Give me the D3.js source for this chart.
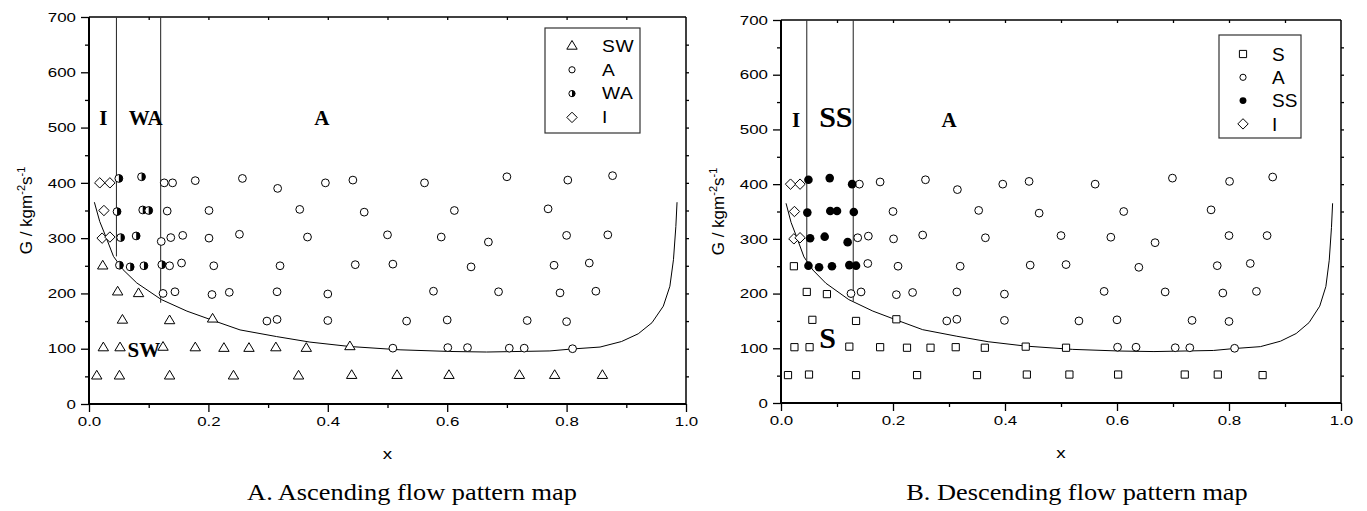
<!DOCTYPE html>
<html><head><meta charset="utf-8">
<script src="https://cdn.jsdelivr.net/npm/d3@7"></script>
<style>body{margin:0;background:#fff}svg{display:block}</style>
</head><body>
<script>
// ---------- data ----------
const xTickValues=[0.0,0.2,0.4,0.6,0.8,1.0];
const xMinorValues=[0.1,0.3,0.5,0.7,0.9];
const yTickValues=[0,100,200,300,400,500,600,700];
const yMinorValues=[50,150,250,350,450,550,650];
const captions=["A. Ascending flow pattern map","B. Descending flow pattern map"];

// transition boundary curve (same on both maps)
const curveX=[0.009,0.018,0.027,0.041,0.057,0.080,0.121,0.164,0.208,0.253,0.314,0.370,0.437,0.521,0.605,0.666,0.772,0.809,0.856,0.892,0.920,0.943,0.962,0.973,0.979,0.983,0.985];
const curveG=[365,330,306,267,243,219,189,168,151,134,122,112,104,98,95,94,96,99.5,103,113,127,147,177,213,261,321,365];

// A: ascending
const ascSW=[[0.023,250],[0.048,203],[0.083,200],[0.056,152],[0.135,151],[0.207,154],[0.024,102],[0.052,102],[0.124,103],[0.178,102],[0.226,101],[0.268,101],[0.313,102],[0.364,101],[0.437,104],[0.013,51],[0.051,51],[0.135,51],[0.242,51],[0.351,51],[0.440,52],[0.516,52],[0.603,52],[0.721,52],[0.780,52],[0.860,52]];
const ascA=[[0.126,400],[0.140,400],[0.178,404],[0.257,408],[0.316,390],[0.396,400],[0.442,405],[0.562,400],[0.700,411],[0.802,405],[0.877,413],
[0.131,349],[0.201,350],[0.353,352],[0.461,347],[0.612,350],[0.769,353],
[0.121,294],[0.137,301],[0.157,305],[0.201,300],[0.252,307],[0.366,302],[0.500,306],[0.590,302],[0.669,293],[0.800,305],[0.869,306],
[0.135,250],[0.155,255],[0.209,250],[0.320,250],[0.446,252],[0.509,253],[0.640,248],[0.779,251],[0.838,255],
[0.124,200],[0.144,203],[0.206,198],[0.235,202],[0.315,203],[0.400,199],[0.577,204],[0.686,203],[0.789,201],[0.849,204],
[0.298,150],[0.315,153],[0.400,151],[0.532,150],[0.600,152],[0.734,151],[0.800,149],
[0.509,101],[0.601,102],[0.634,102],[0.704,101],[0.729,101],[0.810,100]];
const ascWA=[[0.050,408],[0.088,411],[0.047,348],[0.090,351],[0.100,350],[0.053,301],[0.079,304],[0.051,251],[0.069,248],[0.092,250],[0.122,252]];
const ascI=[[0.018,400],[0.035,400],[0.025,350],[0.022,300],[0.035,302]];
const ascBounds=[[0.046,267],[0.120,183]];
const ascRegions=[["I",0.024,505],["WA",0.095,505],["A",0.39,505],["SW",0.092,85]];
const ascLegend=["SW","A","WA","I"];

// B: descending
const desS=[[0.023,250],[0.046,203],[0.082,199],[0.056,152],[0.134,150],[0.206,153],[0.024,102],[0.051,102],[0.122,103],[0.177,102],[0.225,101],[0.267,101],[0.312,102],[0.364,101],[0.437,103],[0.509,101],[0.0125,51],[0.050,52],[0.134,51],[0.243,51],[0.350,51],[0.439,52],[0.515,52],[0.602,52],[0.721,52],[0.780,52],[0.860,51]];
const desA=[[0.140,400],[0.177,404],[0.258,408],[0.315,390],[0.396,400],[0.443,405],[0.561,400],[0.699,411],[0.801,405],[0.878,413],
[0.200,350],[0.353,352],[0.461,347],[0.612,350],[0.768,353],
[0.137,302],[0.156,305],[0.201,300],[0.253,307],[0.365,302],[0.500,306],[0.589,303],[0.668,293],[0.800,306],[0.868,306],
[0.155,255],[0.209,250],[0.320,250],[0.445,252],[0.509,253],[0.639,248],[0.779,251],[0.838,255],
[0.125,200],[0.143,203],[0.206,198],[0.235,202],[0.314,203],[0.399,199],[0.577,204],[0.686,203],[0.789,201],[0.849,204],
[0.296,150],[0.314,153],[0.399,151],[0.532,150],[0.600,152],[0.734,151],[0.800,149],
[0.601,102],[0.634,102],[0.704,101],[0.730,101],[0.810,100]];
const desSS=[[0.049,408],[0.087,411],[0.127,400],[0.047,348],[0.088,351],[0.100,351],[0.130,349],[0.052,301],[0.078,304],[0.119,294],[0.049,251],[0.068,248],[0.091,250],[0.122,252],[0.134,251]];
const desI=[[0.017,400],[0.034,400],[0.024,350],[0.023,300],[0.034,302]];
const desBounds=[[0.046,256],[0.129,185]];
const desRegions=[["I",0.027,505],["SS",0.098,505],["A",0.30,505],["S",0.083,100]];
const desLegend=["S","A","SS","I"];

// ---------- drawing ----------
const svg=d3.select("body").append("svg").attr("width",1367).attr("height",511);
const sans="'Liberation Sans',Arial,sans-serif";
const serif="'Liberation Serif','Times New Roman',serif";

function stretch(sel,k){
  sel.each(function(){
    const w=this.getComputedTextLength();
    if(w>0) d3.select(this).attr("textLength",w*k).attr("lengthAdjust","spacingAndGlyphs");
  });
}

function markerPath(type,cx,cy){
  if(type==="tri"){return `M${cx},${cy-5.5}L${cx+5.2},${cy+3.2}L${cx-5.2},${cy+3.2}Z`;}
  if(type==="sq"){return `M${cx-3.6},${cy-3.6}h7.2v7.2h-7.2Z`;}
  if(type==="dia"){return `M${cx-5.2},${cy}L${cx},${cy-5.2}L${cx+5.2},${cy}L${cx},${cy+5.2}Z`;}
  return "";
}
function drawMarker(g,type,cx,cy,scale){
  scale=scale||1;
  if(type==="circ"){
    g.append("circle").attr("cx",cx).attr("cy",cy).attr("r",3.9*scale).attr("fill","#fff").attr("stroke","#000").attr("stroke-width",1);
  } else if(type==="fill"){
    g.append("circle").attr("cx",cx).attr("cy",cy).attr("r",4.3*scale).attr("fill","#000");
  } else if(type==="half"){
    const r=3.9*scale;
    g.append("circle").attr("cx",cx).attr("cy",cy).attr("r",r).attr("fill","#fff").attr("stroke","#000").attr("stroke-width",1);
    g.append("path").attr("d",`M${cx},${cy-r}A${r},${r} 0 0 1 ${cx},${cy+r}Z`).attr("fill","#000");
  } else {
    g.append("path").attr("d",markerPath(type,cx,cy)).attr("fill","#fff").attr("stroke","#000").attr("stroke-width",1);
  }
}

function panel(o){
  const x=d3.scaleLinear().domain([0,1]).range([o.l,o.r]);
  const y=d3.scaleLinear().domain([0,700]).range([o.b,o.t]);
  const g=svg.append("g");

  // axes
  g.append("g").attr("transform",`translate(0,${o.b})`)
    .call(d3.axisBottom(x).tickValues(xTickValues).tickFormat(d3.format(".1f")).tickSize(8).tickPadding(5));
  g.append("g").attr("transform",`translate(0,${o.b})`)
    .call(d3.axisBottom(x).tickValues(xMinorValues).tickFormat("").tickSize(4));
  g.append("g").attr("transform",`translate(${o.l},0)`)
    .call(d3.axisLeft(y).tickValues(yTickValues).tickSize(8).tickPadding(5));
  g.append("g").attr("transform",`translate(${o.l},0)`)
    .call(d3.axisLeft(y).tickValues(yMinorValues).tickFormat("").tickSize(4));
  g.append("g").attr("transform",`translate(0,${o.t})`)
    .call(d3.axisBottom(x).tickValues(xMinorValues.concat(xTickValues.slice(1,5))).tickFormat("").tickSize(3));
  g.append("g").attr("transform",`translate(${o.r},0)`)
    .call(d3.axisRight(y).tickValues(yMinorValues.concat(yTickValues.slice(1,7))).tickFormat("").tickSize(3));
  g.selectAll(".domain").attr("stroke","none");
  g.selectAll(".tick line").attr("stroke","#000").attr("stroke-width",1.3);
  const tt=g.selectAll(".tick text").attr("font-family",sans).attr("font-size",13).attr("fill","#000");
  stretch(tt,1.3);
  // frame
  g.append("line").attr("x1",o.l).attr("x2",o.l).attr("y1",o.t).attr("y2",o.b).attr("stroke","#000").attr("stroke-width",2);
  g.append("line").attr("x1",o.l).attr("x2",o.r).attr("y1",o.b).attr("y2",o.b).attr("stroke","#000").attr("stroke-width",2);
  g.append("line").attr("x1",o.l).attr("x2",o.r).attr("y1",o.t).attr("y2",o.t).attr("stroke","#000").attr("stroke-width",1.5);
  g.append("line").attr("x1",o.r).attr("x2",o.r).attr("y1",o.t).attr("y2",o.b).attr("stroke","#000").attr("stroke-width",1.5);

  // axis titles
  const xl=g.append("text").attr("x",(o.l+o.r)/2).attr("y",o.b+55).attr("text-anchor","middle")
    .attr("font-family",sans).attr("font-size",15).text("x");
  stretch(xl,1.25);
  const yl=g.append("text").attr("transform",`translate(${o.l-57},${(o.t+o.b)/2}) rotate(-90)`)
    .attr("text-anchor","middle").attr("font-family",sans).attr("font-size",17);
  yl.append("tspan").text("G / kgm");
  yl.append("tspan").attr("font-size",11).attr("dy",-7).text("-2");
  yl.append("tspan").attr("dy",7).text("s");
  yl.append("tspan").attr("font-size",11).attr("dy",-7).text("-1");

  // boundaries
  const line=d3.line().x(d=>x(d[0])).y(d=>y(d[1]));
  g.append("path").datum(curveX.map((v,i)=>[v,curveG[i]])).attr("d",line)
    .attr("fill","none").attr("stroke","#000").attr("stroke-width",1);
  o.bounds.forEach(b=>{
    g.append("line").attr("x1",x(b[0])).attr("x2",x(b[0])).attr("y1",y(700)).attr("y2",y(b[1]))
      .attr("stroke","#333").attr("stroke-width",1.1);
  });

  // series
  o.series.forEach(s=>{
    s.data.forEach(d=>drawMarker(g,s.type,x(d[0]),y(d[1])));
  });

  // region labels
  o.regions.forEach((r,i)=>{
    g.append("text").attr("x",x(r[1])).attr("y",y(r[2])).attr("text-anchor","middle")
      .attr("font-family",serif).attr("font-weight","bold")
      .attr("font-size",o.regionSizes[i]).text(r[0]);
  });

  // legend
  const lg=o.legend;
  g.append("rect").attr("x",lg.x).attr("y",lg.y).attr("width",lg.w).attr("height",lg.h)
    .attr("fill","#fff").attr("stroke","#333").attr("stroke-width",1.2);
  o.series.forEach((s,i)=>{
    const cy=lg.y+lg.first+i*lg.step;
    drawMarker(g,s.type,lg.x+lg.sx,cy,0.8);
    const t=g.append("text").attr("x",lg.x+lg.tx).attr("y",cy).attr("dy","0.36em")
      .attr("font-family",sans).attr("font-size",lg.fs).attr("letter-spacing",lg.ls)
      .text(o.legendNames[i]);
    stretch(t,lg.k);
  });

  // caption
  const cap=g.append("text").attr("x",o.capX).attr("y",500).attr("text-anchor","middle")
    .attr("font-family",serif).attr("font-size",22.5).text(o.caption);
  stretch(cap,1.17);
}

panel({l:89,r:686,t:17,b:404,bounds:ascBounds,
  series:[{type:"tri",data:ascSW},{type:"circ",data:ascA},{type:"half",data:ascWA},{type:"dia",data:ascI}],
  legendNames:ascLegend,regions:ascRegions,regionSizes:[21,21,21,21],
  legend:{x:545,y:28,w:95,h:105,first:18,step:23.8,sx:27,tx:57,fs:16,ls:0.5,k:1.2},
  caption:captions[0],capX:412});

panel({l:781,r:1341,t:20,b:403,bounds:desBounds,
  series:[{type:"sq",data:desS},{type:"circ",data:desA},{type:"fill",data:desSS},{type:"dia",data:desI}],
  legendNames:desLegend,regions:desRegions,regionSizes:[21,30,21,30],
  legend:{x:1219,y:35,w:82,h:103,first:19,step:23.3,sx:24,tx:53,fs:19,ls:0,k:1.0},
  caption:captions[1],capX:1077});
</script>
</body></html>
